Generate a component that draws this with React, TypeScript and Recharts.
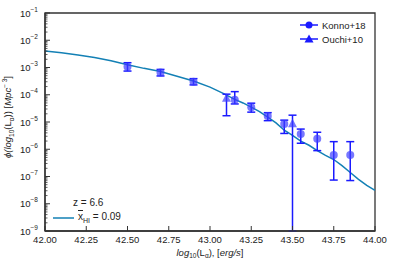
import React from "react";
import {
  ComposedChart,
  Line,
  Scatter,
  ErrorBar,
  XAxis,
  YAxis,
  Legend,
  ReferenceArea,
} from "recharts";

// model curve, log10(L_alpha) vs phi
const modelLogL = [
  42.0, 42.1, 42.2, 42.3, 42.4, 42.5, 42.6, 42.7, 42.8, 42.9, 43.0, 43.08, 43.15, 43.2, 43.25,
  43.3, 43.35, 43.4, 43.45, 43.5, 43.55, 43.6, 43.65, 43.7, 43.75, 43.8, 43.85, 43.9, 43.95, 44.0,
];
const modelPhi = [
  4.07e-3, 3.47e-3, 2.88e-3, 2.34e-3, 1.78e-3, 1.26e-3, 9.3e-4, 7.1e-4, 4.8e-4, 3.2e-4, 1.9e-4,
  1.12e-4, 6.8e-5, 5.0e-5, 3.5e-5, 2.4e-5, 1.5e-5, 9.3e-6, 5.0e-6, 3.2e-6, 2.0e-6, 1.4e-6, 8.9e-7,
  6.0e-7, 4.2e-7, 2.5e-7, 1.4e-7, 7.9e-8, 4.7e-8, 3.1e-8,
];

// Konno+18
const konnoLogL = [42.5, 42.7, 42.9, 43.15, 43.25, 43.35, 43.45, 43.55, 43.65, 43.75, 43.85];
const konnoPhi = [1.07e-3, 6.5e-4, 3.0e-4, 6.5e-5, 3.5e-5, 1.66e-5, 8.5e-6, 3.6e-6, 2.45e-6, 6.2e-7, 6.2e-7];
const konnoHi = [1.5e-3, 8.5e-4, 3.9e-4, 1.3e-4, 4.9e-5, 2.2e-5, 1.17e-5, 5.5e-6, 4.2e-6, 1.9e-6, 1.9e-6];
const konnoLo = [7.4e-4, 4.9e-4, 2.3e-4, 4.6e-5, 2.3e-5, 1.12e-5, 3.8e-6, 1.66e-6, 8.9e-7, 7.4e-8, 7.1e-8];

// Ouchi+10
const ouchiLogL = [43.1, 43.5];
const ouchiPhi = [7.4e-5, 8.7e-6];
const ouchiHi = [1.05e-4, 1.78e-5];
const ouchiLo = [1.7e-5, 1e-9];

const xTicks = [42.0, 42.25, 42.5, 42.75, 43.0, 43.25, 43.5, 43.75, 44.0];
const yDecades = [-9, -8, -7, -6, -5, -4, -3, -2, -1];

const seriesNames = ["Konno+18", "Ouchi+10"];
const modelTitle = "z = 6.6";
const modelValue = "0.09";

const modelData = modelLogL.map((x, i) => ({ x, phi: modelPhi[i] }));
const konnoData = konnoLogL.map((x, i) => ({
  x,
  phi: konnoPhi[i],
  err: [konnoPhi[i] - konnoLo[i], konnoHi[i] - konnoPhi[i]],
}));
const ouchiData = ouchiLogL.map((x, i) => ({
  x,
  phi: ouchiPhi[i],
  err: [ouchiPhi[i] - ouchiLo[i], ouchiHi[i] - ouchiPhi[i]],
}));

const yTicks: number[] = [];
yDecades.forEach((d) => {
  yTicks.push(Math.pow(10, d));
  if (d < -1) {
    for (let k = 2; k <= 9; k++) yTicks.push(Number((k * Math.pow(10, d)).toPrecision(3)));
  }
});

const FONT = "'Liberation Sans', Arial, sans-serif";
const AXIS = "#333";
const BLUE = "#1a1aff";
const TEAL = "#1380b5";

function XTick(props: any) {
  const { x, y, payload } = props;
  return (
    <g>
      <line x1={x} x2={x} y1={y} y2={y - 5} stroke={AXIS} strokeWidth={1} />
      <text x={x} y={y + 11.5} textAnchor="middle" fontSize={9.5} fill="#222" fontFamily={FONT}>
        {payload.value.toFixed(2)}
      </text>
    </g>
  );
}

function YTick(props: any) {
  const { x, y, payload } = props;
  const e = Math.log10(payload.value);
  const major = Math.abs(e - Math.round(e)) < 1e-6;
  if (!major) {
    return <line x1={x} x2={x + 2.5} y1={y} y2={y} stroke={AXIS} strokeWidth={0.8} />;
  }
  return (
    <g>
      <line x1={x} x2={x + 5} y1={y} y2={y} stroke={AXIS} strokeWidth={1} />
      <text x={x - 7} y={y + 3.5} textAnchor="end" fontSize={9.5} fill="#222" fontFamily={FONT}>
        <tspan>10</tspan>
        <tspan dy={-5} fontSize={6.5}>{"\u2212" + Math.abs(Math.round(e))}</tspan>
      </text>
    </g>
  );
}

const Dot = (p: any) => <circle cx={p.cx} cy={p.cy} r={4} fill="#3d3dff" fillOpacity={0.7} />;
const Tri = (p: any) => (
  <polygon
    points={`${p.cx},${p.cy - 5} ${p.cx - 4.5},${p.cy + 3.5} ${p.cx + 4.5},${p.cy + 3.5}`}
    fill="#3d3dff"
    fillOpacity={0.7}
  />
);

function XLabel() {
  return (
    <text x={210} y={255.5} textAnchor="middle" fontSize={9.5} fill="#222" fontFamily={FONT}>
      <tspan fontStyle="italic">log</tspan>
      <tspan dy={2.5} fontSize={6.5}>10</tspan>
      <tspan dy={-2.5}>(L</tspan>
      <tspan dy={2.5} fontSize={6.5}>α</tspan>
      <tspan dy={-2.5}>), [</tspan>
      <tspan fontStyle="italic">erg/s</tspan>
      <tspan>]</tspan>
    </text>
  );
}

function YLabel() {
  return (
    <text
      x={0}
      y={0}
      transform="translate(11,117) rotate(-90)"
      textAnchor="middle"
      fontSize={9.5}
      fill="#222"
      fontFamily={FONT}
    >
      <tspan fontStyle="italic">ϕ(log</tspan>
      <tspan dy={2.5} fontSize={6.5}>10</tspan>
      <tspan dy={-2.5}>(L</tspan>
      <tspan dy={2.5} fontSize={6.5}>α</tspan>
      <tspan dy={-2.5}>)) [</tspan>
      <tspan fontStyle="italic">Mpc</tspan>
      <tspan dy={-4} fontSize={6.5}>{"\u2212 3"}</tspan>
      <tspan dy={4}>]</tspan>
    </text>
  );
}

function LegendBoxes() {
  const row = { position: "absolute" as const, display: "flex", alignItems: "center", whiteSpace: "nowrap" as const };
  return (
    <div style={{ position: "relative", width: 395, height: 266, fontFamily: FONT, fontSize: 9.5, color: "#222" }}>
      <div style={{ ...row, left: 300, top: 19 }}>
        <svg width={18} height={12}>
          <line x1={0} x2={18} y1={6} y2={6} stroke={BLUE} strokeWidth={1.5} />
          <circle cx={9} cy={6} r={3.5} fill={BLUE} />
        </svg>
        <span style={{ marginLeft: 4 }}>{seriesNames[0]}</span>
      </div>
      <div style={{ ...row, left: 300, top: 33 }}>
        <svg width={18} height={12}>
          <line x1={0} x2={18} y1={6} y2={6} stroke={BLUE} strokeWidth={1.5} />
          <polygon points="9,1.5 4.5,9.5 13.5,9.5" fill={BLUE} />
        </svg>
        <span style={{ marginLeft: 4 }}>{seriesNames[1]}</span>
      </div>
      <div style={{ ...row, left: 73, top: 197, fontSize: 10 }}>{modelTitle}</div>
      <div style={{ ...row, left: 53, top: 211, fontSize: 10 }}>
        <svg width={21} height={12}>
          <line x1={0} x2={21} y1={6} y2={6} stroke={TEAL} strokeWidth={1.5} />
        </svg>
        <span style={{ marginLeft: 4 }}>
          <span style={{ textDecoration: "overline" }}>x</span>
          <sub style={{ fontSize: 7 }}>HI</sub> = {modelValue}
        </span>
      </div>
    </div>
  );
}

export default function App() {
  return (
    <div style={{ position: "absolute", left: 0, top: 0, width: 395, height: 266, background: "#fff" }}>
      <ComposedChart width={395} height={266} margin={{ top: 13, right: 20, bottom: 0, left: 0 }}>
        <XAxis
          type="number"
          dataKey="x"
          domain={[42, 44]}
          ticks={xTicks}
          interval={0}
          height={35}
          tickSize={0}
          tickMargin={0}
          tickLine={false}
          axisLine={{ stroke: AXIS, strokeWidth: 1.3 }}
          tick={<XTick />}
          allowDataOverflow
          label={{ content: () => <XLabel /> }}
        />
        <YAxis
          type="number"
          scale="log"
          domain={[1e-9, 1e-1]}
          ticks={yTicks}
          interval={0}
          width={45}
          tickSize={0}
          tickMargin={0}
          tickLine={false}
          axisLine={{ stroke: AXIS, strokeWidth: 1.3 }}
          tick={<YTick />}
          allowDataOverflow
          label={{ content: () => <YLabel /> }}
        />
        <ReferenceArea x1={42} x2={44} y1={1e-9} y2={1e-1} fill="none" stroke={AXIS} strokeWidth={1.3} />
        <Line
          data={modelData}
          dataKey="phi"
          type="linear"
          stroke={TEAL}
          strokeWidth={1.5}
          dot={false}
          isAnimationActive={false}
        />
        <Scatter data={konnoData} dataKey="phi" shape={Dot} isAnimationActive={false}>
          <ErrorBar dataKey="err" direction="y" width={4} stroke={BLUE} strokeWidth={1.5} />
        </Scatter>
        <Scatter data={ouchiData} dataKey="phi" shape={Tri} isAnimationActive={false}>
          <ErrorBar dataKey="err" direction="y" width={4} stroke={BLUE} strokeWidth={1.5} />
        </Scatter>
        <Legend
          layout="vertical"
          align="center"
          verticalAlign="middle"
          wrapperStyle={{ left: 0, top: 0, width: 395, height: 266, pointerEvents: "none" }}
          content={() => <LegendBoxes />}
        />
      </ComposedChart>
    </div>
  );
}
